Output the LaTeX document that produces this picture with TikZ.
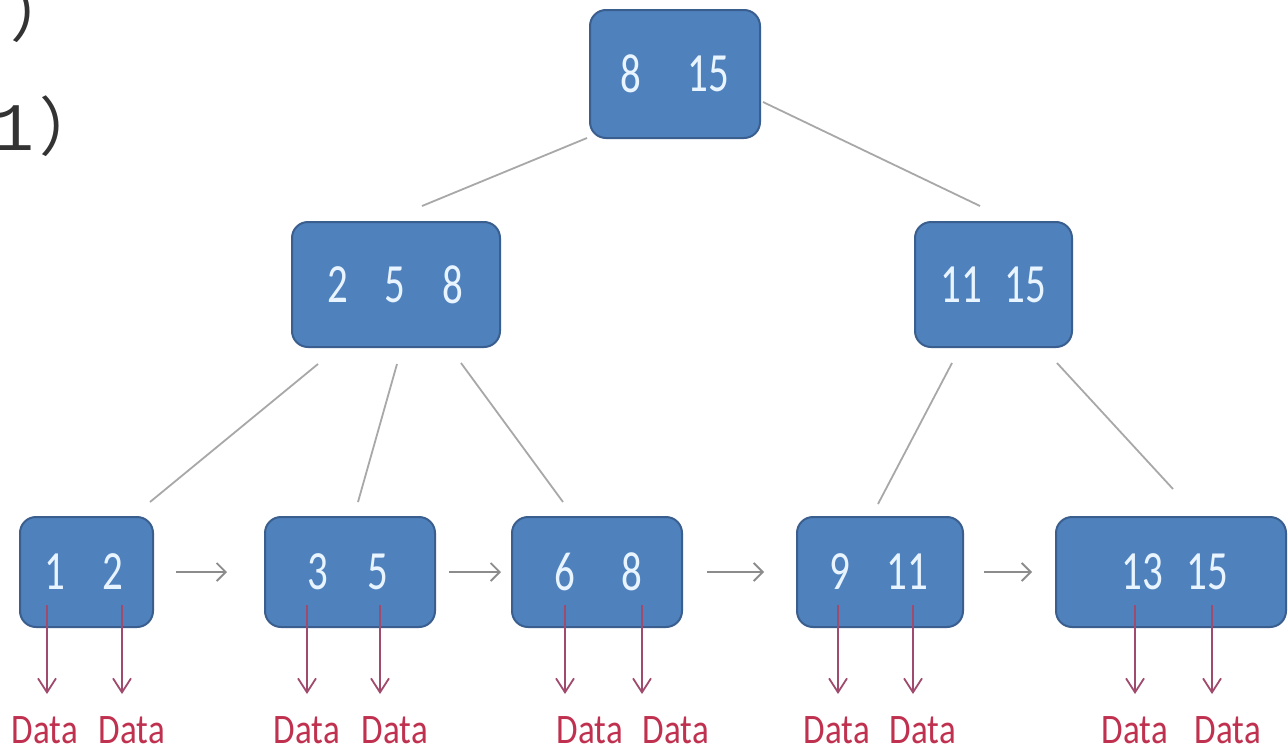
\documentclass[tikz,border=0pt]{standalone}
\usepackage{fontspec}
\usepackage{graphicx}
\setmainfont{Carlito}
\newfontfamily\cjkfont{Noto Sans CJK SC}
\newfontfamily\monofont{Liberation Mono}
\usetikzlibrary{arrows.meta,calc}
\definecolor{nodefill}{HTML}{4F81BD}
\definecolor{nodeborder}{HTML}{3A5F8F}
\definecolor{keytext}{HTML}{E8F4FF}
\definecolor{edgegray}{HTML}{A8A8A8}
\definecolor{linkgray}{HTML}{8C8C8C}
\definecolor{dataarrow}{HTML}{A04A6E}
\definecolor{datatext}{HTML}{C0304F}
\definecolor{topgray}{HTML}{333333}
\newcommand{\vstretch}[2]{\scalebox{1}[#1]{#2}}
\begin{document}
\begin{tikzpicture}[x=1pt,y=-1pt,
  box/.style={draw=nodeborder, line width=2pt, fill=nodefill, rounded corners=16pt, inner sep=0pt},
  key/.style={text=keytext, font=\fontsize{41}{41}\selectfont, inner sep=0pt},
  datalabel/.style={text=datatext, font=\fontsize{35}{35}\selectfont, inner sep=0pt},
  treeedge/.style={draw=edgegray, line width=1.8pt},
  link/.style={draw=linkgray, line width=1.8pt, -{Straight Barb[length=9pt,width=18pt]}},
  dataarr/.style={draw=dataarrow, line width=1.8pt, -{Straight Barb[length=14pt,width=18pt]}},
  toptext/.style={text=topgray, inner sep=0pt, anchor=base west}
]
\useasboundingbox (0,0) rectangle (1288,755);
\fill[white] (0,0) rectangle (1288,755);

% top-left clipped text
\node[toptext, font=\fontsize{64}{64}\selectfont] (tp1) at (10,36) {\cjkfont ）};
\node[toptext, font=\fontsize{68}{68}\selectfont] (tp2) at (-7,150) {{\monofont 1}\hspace{5pt}{\fontsize{64}{64}\selectfont\cjkfont ）}};

% boxes
\node[box, minimum width=170pt, minimum height=128pt] (root) at (675,74) {};
\node[box, minimum width=208pt, minimum height=125pt] (ml) at (396,284.5) {};
\node[box, minimum width=157pt, minimum height=125pt] (mr) at (993.5,284.5) {};
\node[box, minimum width=133pt, minimum height=110pt] (l1) at (86.5,572) {};
\node[box, minimum width=170pt, minimum height=110pt] (l2) at (350,572) {};
\node[box, minimum width=170pt, minimum height=110pt] (l3) at (597,572) {};
\node[box, minimum width=166pt, minimum height=110pt] (l4) at (880,572) {};
\node[box, minimum width=230pt, minimum height=110pt] (l5) at (1171,572) {};

% keys
\node[key] (kr1) at (631,74) {\vstretch{1.35}{8}};
\node[key] (kr2) at (708,74) {\vstretch{1.35}{15}};
\node[key] (km1) at (338,285) {\vstretch{1.35}{2}};
\node[key] (km2) at (395,285) {\vstretch{1.35}{5}};
\node[key] (km3) at (453,285) {\vstretch{1.35}{8}};
\node[key] (kn1) at (961,285) {\vstretch{1.35}{11}};
\node[key] (kn2) at (1025,285) {\vstretch{1.35}{15}};
\node[key] (k11) at (55,572) {\vstretch{1.35}{1}};
\node[key] (k12) at (113,572) {\vstretch{1.35}{2}};
\node[key] (k21) at (318,572) {\vstretch{1.35}{3}};
\node[key] (k22) at (378,572) {\vstretch{1.35}{5}};
\node[key] (k31) at (565,572) {\vstretch{1.35}{6}};
\node[key] (k32) at (632,572) {\vstretch{1.35}{8}};
\node[key] (k41) at (840,572) {\vstretch{1.35}{9}};
\node[key] (k42) at (907,572) {\vstretch{1.35}{11}};
\node[key] (k51) at (1142,572) {\vstretch{1.35}{13}};
\node[key] (k52) at (1207,572) {\vstretch{1.35}{15}};

% tree edges
\draw[treeedge] ($(root.south west)+(-2,-1)$) -- ($(ml.north)+(26,-15)$);
\draw[treeedge] ($(root.east)+(2,28)$) -- ($(mr.north)+(-13.5,-15)$);
\draw[treeedge] ($(ml.south)+(-78,16)$) -- ($(l1.north)+(63.5,-14)$);
\draw[treeedge] ($(ml.south)+(1,16)$) -- ($(l2.north)+(8,-14)$);
\draw[treeedge] ($(ml.south)+(65,15)$) -- ($(l3.north)+(-34,-14)$);
\draw[treeedge] ($(mr.south)+(-41.5,15)$) -- ($(l4.north)+(-2,-12)$);
\draw[treeedge] ($(mr.south)+(63.5,15)$) -- ($(l5.north)+(2,-27)$);

% leaf links
\draw[link, shorten <=22pt, shorten >=37pt] (l1.east) -- (l2.west);
\draw[link, shorten <=13pt, shorten >=10pt] (l2.east) -- (l3.west);
\draw[link, shorten <=24pt, shorten >=32pt] (l3.east) -- (l4.west);
\draw[link, shorten <=20pt, shorten >=23pt] (l4.east) -- (l5.west);

% data labels
\node[datalabel] (d11) at (45,730) {\vstretch{1.2}{Data}};
\node[datalabel] (d12) at (132,730) {\vstretch{1.2}{Data}};
\node[datalabel] (d21) at (307,730) {\vstretch{1.2}{Data}};
\node[datalabel] (d22) at (395,730) {\vstretch{1.2}{Data}};
\node[datalabel] (d31) at (590,730) {\vstretch{1.2}{Data}};
\node[datalabel] (d32) at (676,730) {\vstretch{1.2}{Data}};
\node[datalabel] (d41) at (837,730) {\vstretch{1.2}{Data}};
\node[datalabel] (d42) at (923,730) {\vstretch{1.2}{Data}};
\node[datalabel] (d51) at (1135,730) {\vstretch{1.2}{Data}};
\node[datalabel] (d52) at (1228,730) {\vstretch{1.2}{Data}};

% data arrows
\draw[dataarr] ([xshift=-8pt]k11.center |- 0,605) -- ([xshift=-8pt]k11.center |- 0,694);
\draw[dataarr] ([xshift=9pt]k12.center |- 0,605) -- ([xshift=9pt]k12.center |- 0,694);
\draw[dataarr] ([xshift=-11pt]k21.center |- 0,605) -- ([xshift=-11pt]k21.center |- 0,694);
\draw[dataarr] ([xshift=2pt]k22.center |- 0,605) -- ([xshift=2pt]k22.center |- 0,694);
\draw[dataarr] (k31.center |- 0,605) -- (k31.center |- 0,694);
\draw[dataarr] ([xshift=10pt]k32.center |- 0,605) -- ([xshift=10pt]k32.center |- 0,694);
\draw[dataarr] ([xshift=-2pt]k41.center |- 0,605) -- ([xshift=-2pt]k41.center |- 0,694);
\draw[dataarr] ([xshift=6pt]k42.center |- 0,605) -- ([xshift=6pt]k42.center |- 0,694);
\draw[dataarr] ([xshift=-7pt]k51.center |- 0,605) -- ([xshift=-7pt]k51.center |- 0,694);
\draw[dataarr] ([xshift=5pt]k52.center |- 0,605) -- ([xshift=5pt]k52.center |- 0,694);
\end{tikzpicture}
\end{document}
